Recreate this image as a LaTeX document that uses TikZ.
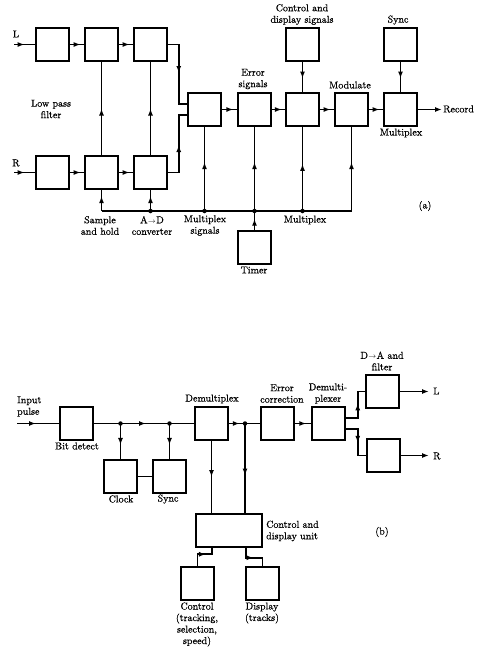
\documentclass[tikz,border=0pt]{standalone}
\usepackage{fontspec}
\newfontfamily\lblfont{Latin Modern Roman}[FakeBold=0.6]
\usetikzlibrary{arrows.meta,decorations.markings,calc}
\begin{document}
\begin{tikzpicture}[x=1pt,y=1pt,
  blk/.style={draw, line width=1.5pt, minimum width=33pt, minimum height=33pt, inner sep=0pt},
  conn/.style={line width=1.9pt},
  marr/.style={postaction={decorate,decoration={markings,mark=at position #1 with {\arrow{Latex[length=7pt,width=5pt]}}}}},
  endarr/.style={-{Latex[length=7pt,width=5pt]}},
  dot/.style={circle,fill,inner sep=0pt,minimum size=4.5pt},
  lbl/.style={font=\lblfont\fontsize{10}{11.5}\selectfont, align=center, inner sep=0pt}]
\useasboundingbox (0,0) rectangle (501,-659);

% ---------------- (a) ----------------
\node[blk] (L1) at (52.5,-44.5) {};
\node[blk] (L2) at (101.5,-44.5) {};
\node[blk] (L3) at (150.5,-44.5) {};
\node[blk] (R1) at (52.5,-172.5) {};
\node[blk] (R2) at (101.5,-172.5) {};
\node[blk] (R3) at (150.5,-172.5) {};
\node[blk] (MX1) at (204.5,-109.5) {};
\node[blk] (ERR) at (254.5,-109.5) {};
\node[blk] (CMX) at (302.5,-109.5) {};
\node[blk] (MOD) at (351.5,-109.5) {};
\node[blk] (MUX) at (400.5,-109.5) {};
\node[blk] (CDS) at (302.5,-44.5) {};
\node[blk] (SYNC) at (400.5,-44.5) {};
\node[blk] (TIMER) at (254.5,-247.5) {};

\coordinate (Lin) at (14,-44.5);
\coordinate (Rin) at (14,-172.5);
\coordinate (REC) at (442,-109.5);

\draw[conn,marr=0.5] (Lin) -- (L1.west);
\draw[conn,marr=0.5] (Rin) -- (R1.west);
\draw[conn,marr=0.75] (L1.east) -- (L2.west);
\draw[conn,marr=0.75] (L2.east) -- (L3.west);
\draw[conn,marr=0.75] (R1.east) -- (R2.west);
\draw[conn,marr=0.75] (R2.east) -- (R3.west);
\draw[conn,marr=0.75] (MX1.east) -- (ERR.west);
\draw[conn,marr=0.75] (ERR.east) -- (CMX.west);
\draw[conn,marr=0.75] (CMX.east) -- (MOD.west);
\draw[conn,marr=0.75] (MOD.east) -- (MUX.west);
\draw[conn,endarr] (MUX.east) -- (REC);

\draw[conn,marr=0.5] (R2.north) -- (L2.south);
\draw[conn,marr=0.5] (R3.north) -- (L3.south);
\draw[conn,marr=0.5] (L3.east) -- ++(11,0) |- ([yshift=5.5pt]MX1.west);
\draw[conn,marr=0.5] (R3.east) -- ++(11,0) |- ([yshift=-5.5pt]MX1.west);
\draw[conn,marr=0.55] (CDS.south) -- (CMX.north);
\draw[conn,marr=0.55] (SYNC.south) -- (MUX.north);

\coordinate (B) at (0,-211);
\coordinate (b1) at (R2.south |- B);
\coordinate (b5) at (MOD.south |- B);
\node[dot] (j3) at (R3.south |- B) {};
\node[dot] (jm) at (MX1.south |- B) {};
\node[dot] (je) at (ERR.south |- B) {};
\node[dot] (jc) at (CMX.south |- B) {};
\draw[conn] (b1) -- (b5);
\draw[conn,marr=0.7] (b1) -- (R2.south);
\draw[conn,marr=0.7] (j3.center) -- (R3.south);
\draw[conn,marr=0.58] (jm.center) -- (MX1.south);
\draw[conn,marr=0.58] (je.center) -- (ERR.south);
\draw[conn,marr=0.56] (jc.center) -- (CMX.south);
\draw[conn,marr=0.58] (b5) -- (MOD.south);
\draw[conn,marr=0.6] (TIMER.north) -- (je.center);

\node[lbl] at (16,-34) {L};
\node[lbl] at (16,-163) {R};
\node[lbl] at (51,-109) {Low pass\\filter};
\node[lbl] at (100,-225.5) {Sample\\and hold};
\node[lbl] at (152,-225.5) {A\kern.3pt$\scriptstyle\rightarrow$\kern.3pt D\\converter};
\node[lbl] at (205,-225.5) {Multiplex\\signals};
\node[lbl] at (305,-220) {Multiplex};
\node[lbl] at (254,-270) {Timer};
\node[lbl] at (253,-79) {Error\\signals};
\node[lbl] at (302,-14.5) {Control and\\display signals};
\node[lbl] at (398,-20) {Sync};
\node[lbl] at (350,-85) {Modulate};
\node[lbl] at (401,-133) {Multiplex};
\node[lbl,anchor=west] at (443,-109) {Record};
\node[lbl] at (425,-206) {(a)};

% ---------------- (b) ----------------
\node[blk] (BD) at (76.5,-423.5) {};
\node[blk] (DMX) at (211.5,-423.5) {};
\node[blk] (ERC) at (277.5,-423.5) {};
\node[blk] (DMR) at (328.5,-423.5) {};
\node[blk] (DA) at (382.5,-391.5) {};
\node[blk] (RB) at (383.5,-455.5) {};
\node[blk] (CLK) at (120.5,-476.5) {};
\node[blk] (SYN) at (169.5,-476.5) {};
\node[blk,minimum width=66pt] (CDU) at (229,-530.5) {};
\node[blk] (CTL) at (197.5,-583.5) {};
\node[blk] (DSP) at (262.5,-583.5) {};

\coordinate (IN) at (17,-423.5);
\coordinate (OL) at (429,-391.5);
\coordinate (OR) at (429,-455.5);
\node[dot] (jk) at (120.5,-423.5) {};
\node[dot] (js) at (169.5,-423.5) {};
\node[dot] (jd) at (245,-423.5) {};

\draw[conn,marr=0.45] (IN) -- (BD.west);
\draw[conn,marr=0.52] (BD.east) -- (DMX.west);
\draw[conn,marr=0.6] (jk.center) -- (CLK.north);
\draw[conn,marr=0.6] (js.center) -- (SYN.north);
\draw[conn] (CLK.east) -- (SYN.west);
\draw[conn,marr=0.35] (DMX.east) -- (ERC.west);
\draw[conn,marr=0.7] (ERC.east) -- (DMR.west);
\draw[conn,marr=0.5] (DMX.south) -- (DMX.south |- CDU.north);
\draw[conn,marr=0.58] (jd.center) -- (jd.center |- CDU.north);
\draw[conn,marr=0.58] ([yshift=5.5pt]DMR.east) -- ++(12,0) |- (DA.west);
\draw[conn,marr=0.55] ([yshift=-5.5pt]DMR.east) -- ++(12,0) |- (RB.west);
\draw[conn,endarr] (DA.east) -- (OL);
\draw[conn,endarr] (RB.east) -- (OR);
\draw[conn,marr=0.62] (CTL.north) -- ++(0,12) -| ([xshift=-17pt]CDU.south);
\draw[conn,marr=0.5] ([xshift=17pt]CDU.south) -- ++(0,-10) -| (DSP.north);

\node[lbl,align=left,anchor=west] at (17,-406.5) {Input\\pulse};
\node[lbl] at (77,-446) {Bit detect};
\node[lbl] at (212,-399) {Demultiplex};
\node[lbl] at (121,-499) {Clock};
\node[lbl] at (168,-499) {Sync};
\node[lbl] at (282,-393.5) {Error\\correction};
\node[lbl] at (328,-393.5) {Demulti-\\plexer};
\node[lbl] at (382,-361) {D\kern.3pt$\scriptstyle\rightarrow$\kern.3pt A and\\filter};
\node[lbl,anchor=west] at (433,-391) {L};
\node[lbl,anchor=west] at (433,-456) {R};
\node[lbl,align=left,anchor=west] at (266,-531) {Control and\\display unit};
\node[lbl] at (382,-532) {(b)};
\node[lbl] at (197,-624.5) {Control\\(tracking,\\selection,\\speed)};
\node[lbl] at (262,-613) {Display\\(tracks)};
\end{tikzpicture}
\end{document}
